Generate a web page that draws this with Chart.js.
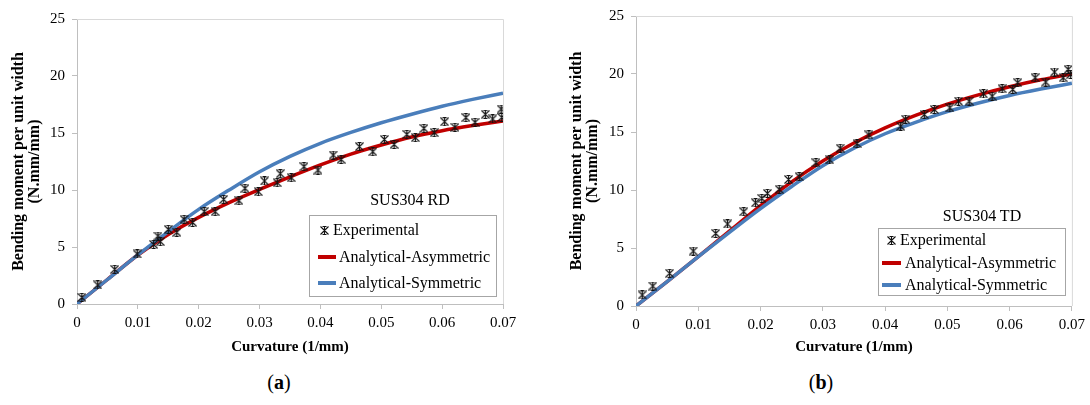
<!DOCTYPE html>
<html>
<head>
<meta charset="utf-8">
<script src="https://cdn.jsdelivr.net/npm/chart.js@4.4.0/dist/chart.umd.min.js"></script>
<style>
  html, body { margin: 0; padding: 0; background: #fff; }
  body { width: 1090px; height: 405px; position: relative; overflow: hidden; font-family: "Liberation Serif", "Times New Roman", serif; color: #000; }
  canvas { position: absolute; top: 0; }
  .lg-box { position: absolute; border: 1px solid #a6a6a6; background: #fff; box-sizing: border-box; }
  .lg-text { position: absolute; font-size: 16px; line-height: 18px; white-space: nowrap; }
  .lg-line { position: absolute; height: 4px; }
  .lg-title { position: absolute; font-size: 16px; line-height: 18px; white-space: nowrap; transform: translateX(-50%); }
  .cap { position: absolute; font-size: 20px; line-height: 24px; transform: translateX(-50%); top: 370px; }
</style>
</head>
<body>
<canvas id="cA" width="540" height="365" style="left:0px"></canvas>
<canvas id="cB" width="550" height="365" style="left:540px"></canvas>
<div id="legends"></div>
<div class="cap" style="left:279px">(<b>a</b>)</div>
<div class="cap" style="left:821px">(<b>b</b>)</div>
<script>
// ---------------- DATA ----------------
const xTicks = [0, 0.01, 0.02, 0.03, 0.04, 0.05, 0.06, 0.07];
const xTickLabels = ["0", "0.01", "0.02", "0.03", "0.04", "0.05", "0.06", "0.07"];
const yTicks = [0, 5, 10, 15, 20, 25];
const yTickLabels = ["0", "5", "10", "15", "20", "25"];

const seriesNames = ["Experimental", "Analytical-Asymmetric", "Analytical-Symmetric"];
const panelTitles = ["SUS304 RD", "SUS304 TD"];
const xAxisTitle = "Curvature (1/mm)";
const yAxisTitle = ["Bending moment per unit width", "(N.mm/mm)"];

const curveCurvature = [0, 0.005, 0.01, 0.015, 0.02, 0.025, 0.03, 0.035, 0.04, 0.045, 0.05, 0.055, 0.06, 0.065, 0.07];

// (a) SUS304 RD
const rdAsym = [0, 2.15, 4.3, 6.1, 7.6, 8.9, 10.05, 11.15, 12.2, 13.15, 13.95, 14.65, 15.2, 15.65, 16.05];
const rdSym  = [0, 2.15, 4.3, 6.35, 8.3, 10.0, 11.6, 12.95, 14.1, 15.05, 15.9, 16.65, 17.35, 17.95, 18.5];
const rdExpX = [0.0008, 0.0034, 0.0062, 0.0099, 0.0126, 0.0133, 0.0137, 0.015, 0.0164, 0.0176, 0.019, 0.0209, 0.0227, 0.0241, 0.0266, 0.0276, 0.0298, 0.0308, 0.0329, 0.0334, 0.0352, 0.0373, 0.0396, 0.0421, 0.0434, 0.0464, 0.0486, 0.0505, 0.0521, 0.0542, 0.0556, 0.057, 0.0587, 0.0604, 0.0621, 0.0639, 0.0654, 0.0671, 0.0683, 0.0697, 0.0698];
const rdExpY = [0.58, 1.67, 3.04, 4.39, 5.23, 5.96, 5.47, 6.55, 6.29, 7.43, 7.16, 8.1, 8.1, 9.18, 9.06, 10.15, 9.85, 10.79, 10.64, 11.43, 11.08, 12.05, 11.75, 13.07, 12.69, 13.8, 13.36, 14.44, 14.0, 14.88, 14.59, 15.41, 15.03, 15.99, 15.5, 16.35, 15.94, 16.64, 16.23, 17.1, 16.37];

// (b) SUS304 TD
const tdAsym = [0, 2.1, 4.25, 6.45, 8.65, 10.7, 12.5, 14.05, 15.35, 16.45, 17.4, 18.2, 18.9, 19.5, 20.0];
const tdSym  = [0, 2.1, 4.25, 6.35, 8.4, 10.3, 12.1, 13.6, 14.85, 15.85, 16.75, 17.5, 18.15, 18.7, 19.2];
const tdExpX = [0.001, 0.0027, 0.0054, 0.0092, 0.0128, 0.0147, 0.0173, 0.0192, 0.0202, 0.0211, 0.023, 0.0245, 0.0262, 0.0289, 0.0311, 0.0328, 0.0355, 0.0374, 0.0425, 0.0433, 0.0463, 0.0479, 0.0504, 0.0518, 0.0535, 0.0558, 0.0572, 0.0588, 0.0605, 0.0613, 0.0641, 0.0658, 0.0672, 0.0686, 0.0694, 0.0698];
const tdExpY = [0.95, 1.72, 2.82, 4.74, 6.26, 7.07, 8.13, 8.9, 9.28, 9.71, 10.06, 10.9, 11.15, 12.35, 12.6, 13.6, 14.0, 14.75, 15.5, 16.1, 16.5, 16.94, 17.08, 17.66, 17.66, 18.29, 18.09, 18.73, 18.67, 19.25, 19.68, 19.31, 20.17, 19.68, 20.4, 19.97];

// ---------------- STYLE ----------------
const RED = "#C00000";
const BLUE = "#4A7EBB";
const AXIS = "#BFBFBF";
const FRAME = "#D9D9D9";
const FONT = "'Liberation Serif', 'Times New Roman', serif";

function starMarker(size) {
  const c = document.createElement('canvas');
  c.width = size; c.height = size;
  const g = c.getContext('2d');
  g.strokeStyle = "#111";
  g.lineWidth = 1.1;
  g.beginPath();
  g.moveTo(0.5, 0.5); g.lineTo(size - 0.5, size - 0.5);
  g.moveTo(size - 0.5, 0.5); g.lineTo(0.5, size - 0.5);
  g.moveTo(size / 2, 0); g.lineTo(size / 2, size);
  g.moveTo(size / 2 - 2, 0.5); g.lineTo(size / 2 + 2, 0.5);
  g.moveTo(size / 2 - 2, size - 0.5); g.lineTo(size / 2 + 2, size - 0.5);
  g.stroke();
  return c;
}
const STAR = starMarker(9);

const zip = (xs, ys) => xs.map((x, i) => ({ x: x, y: ys[i] }));

const framePlugin = {
  id: 'frame',
  beforeDatasetsDraw(chart) {
    const a = chart.chartArea, ctx = chart.ctx;
    ctx.save();
    ctx.strokeStyle = FRAME;
    ctx.lineWidth = 1;
    ctx.beginPath();
    ctx.moveTo(a.left, a.top + 0.5); ctx.lineTo(a.right + 0.5, a.top + 0.5);
    ctx.lineTo(a.right + 0.5, a.bottom);
    ctx.stroke();
    ctx.restore();
  }
};

function makeChart(id, cfg) {
  const datasets = [
    { label: seriesNames[0], data: zip(cfg.expX, cfg.expY), showLine: false,
      pointStyle: STAR, pointRadius: 4.5, order: 0 },
    { label: seriesNames[2], data: zip(curveCurvature, cfg.sym), showLine: true,
      borderColor: BLUE, borderWidth: 3.5, pointRadius: 0, cubicInterpolationMode: 'monotone', order: 1 },
    { label: seriesNames[1], data: zip(curveCurvature, cfg.asym), showLine: true,
      borderColor: RED, borderWidth: 3.5, pointRadius: 0, cubicInterpolationMode: 'monotone', order: 2 }
  ];
  return new Chart(document.getElementById(id), {
    type: 'scatter',
    data: { datasets },
    plugins: [framePlugin],
    options: {
      responsive: false,
      animation: false,
      events: [],
      layout: { padding: { top: cfg.padTop, right: cfg.padRight, left: 0, bottom: 0 } },
      plugins: { legend: { display: false }, tooltip: { enabled: false } },
      scales: {
        x: {
          type: 'linear', min: 0, max: 0.07,
          afterBuildTicks: s => { s.ticks = xTicks.map(v => ({ value: v })); },
          afterFit: s => { s.height = cfg.xHeight; },
          ticks: { font: { family: FONT, size: 15 }, color: '#000', padding: 5,
                   maxRotation: 0, autoSkip: false,
                   callback: (v, i) => xTickLabels[i] },
          grid: { drawOnChartArea: false, drawTicks: true, tickLength: 5, color: AXIS },
          border: { display: true, color: AXIS, width: 1 },
          title: { display: true, text: xAxisTitle, color: '#000',
                   font: { family: FONT, size: 15, weight: 'bold' },
                   padding: { top: 0, bottom: cfg.xTitlePad } }
        },
        y: {
          type: 'linear', min: 0, max: 25,
          afterBuildTicks: s => { s.ticks = yTicks.map(v => ({ value: v })); },
          afterFit: s => { s.width = cfg.yWidth; },
          ticks: { font: { family: FONT, size: 15 }, color: '#000', padding: 7,
                   callback: (v, i) => yTickLabels[i] },
          grid: { drawOnChartArea: false, drawTicks: true, tickLength: 5, color: AXIS },
          border: { display: true, color: AXIS, width: 1 },
          title: { display: true, text: yAxisTitle, color: '#000',
                   font: { family: FONT, size: 16, weight: 'bold', lineHeight: 1.05 },
                   padding: { top: cfg.yTitlePad, bottom: 0 } }
        }
      }
    }
  });
}

makeChart('cA', { expX: rdExpX, expY: rdExpY, asym: rdAsym, sym: rdSym,
  padTop: 19, padRight: 37, xHeight: 61, yWidth: 77, xTitlePad: 9, yTitlePad: 10 });
makeChart('cB', { expX: tdExpX, expY: tdExpY, asym: tdAsym, sym: tdSym,
  padTop: 16, padRight: 15, xHeight: 59, yWidth: 96, xTitlePad: 9, yTitlePad: 28 });

// ---------------- LEGENDS (HTML) ----------------
function legend(L) {
  const root = document.getElementById('legends');
  const add = (cls, css, html) => { const d = document.createElement('div'); d.className = cls; Object.assign(d.style, css); if (html != null) d.textContent = html; root.appendChild(d); return d; };
  add('lg-title', { left: L.titleX + 'px', top: (L.titleY - 9) + 'px' }, L.title);
  add('lg-box', { left: L.x + 'px', top: L.y + 'px', width: L.w + 'px', height: L.h + 'px' });
  const mk = document.createElement('canvas');
  mk.width = 9; mk.height = 9; mk.getContext('2d').drawImage(STAR, 0, 0);
  Object.assign(mk.style, { position: 'absolute', left: (L.starX - 4.5) + 'px', top: (L.rows[0] - 4.5) + 'px' });
  root.appendChild(mk);
  add('lg-text', { left: L.text0X + 'px', top: (L.rows[0] - 9) + 'px' }, seriesNames[0]);
  add('lg-line', { left: L.lineX0 + 'px', width: (L.lineX1 - L.lineX0) + 'px', top: (L.rows[1] - 2) + 'px', background: RED });
  add('lg-text', { left: L.textX + 'px', top: (L.rows[1] - 9) + 'px' }, seriesNames[1]);
  add('lg-line', { left: L.lineX0 + 'px', width: (L.lineX1 - L.lineX0) + 'px', top: (L.rows[2] - 2) + 'px', background: BLUE });
  add('lg-text', { left: L.textX + 'px', top: (L.rows[2] - 9) + 'px' }, seriesNames[2]);
}
legend({ title: panelTitles[0], titleX: 410, titleY: 200, x: 309, y: 215, w: 188, h: 82,
  rows: [230, 256.5, 282.5], starX: 324, text0X: 333, lineX0: 318, lineX1: 336, textX: 339 });
legend({ title: panelTitles[1], titleX: 982, titleY: 216, x: 878, y: 228, w: 188, h: 68,
  rows: [240, 262.5, 285], starX: 891, text0X: 900, lineX0: 882, lineX1: 901, textX: 905 });
</script>
</body>
</html>
